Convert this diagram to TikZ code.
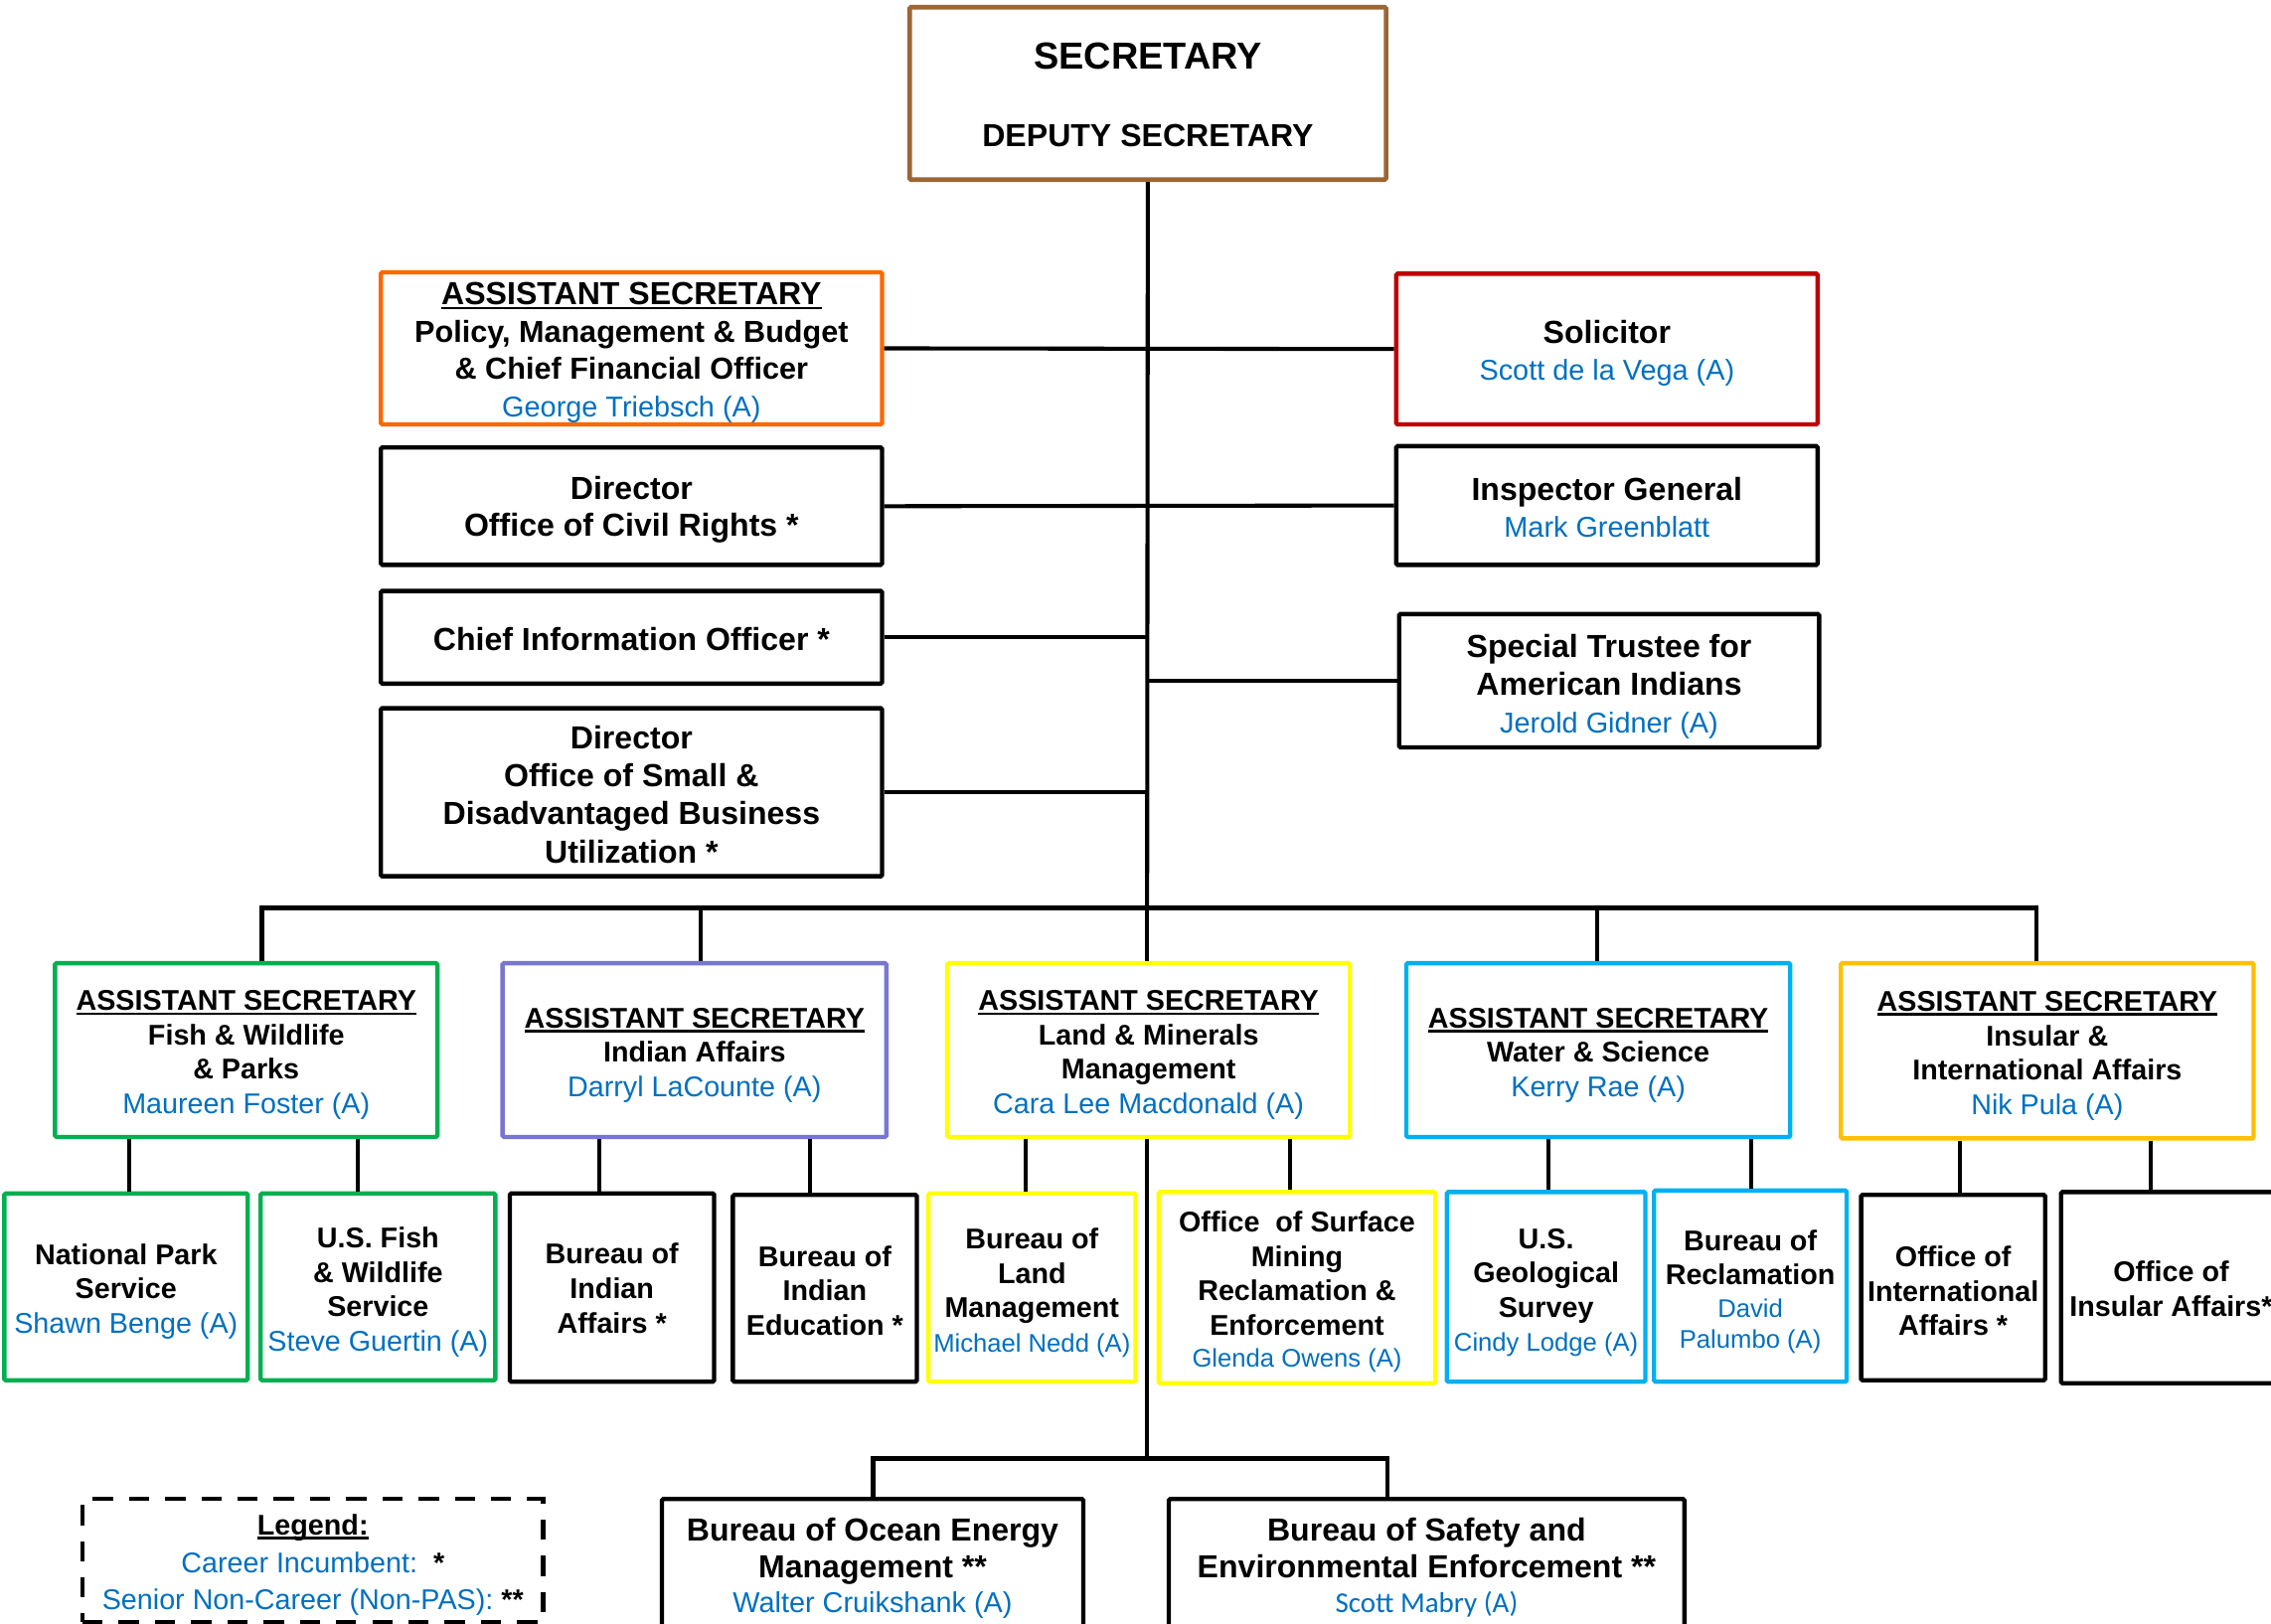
\documentclass[tikz,border=0pt]{standalone}
\usepackage{fontspec}
\setmainfont{Liberation Sans}
\newfontfamily\calib{Carlito}
\definecolor{brownC}{RGB}{156,102,52}
\definecolor{orangeC}{RGB}{255,102,0}
\definecolor{redC}{RGB}{192,0,0}
\definecolor{greenC}{RGB}{0,176,80}
\definecolor{purpleC}{RGB}{121,118,210}
\definecolor{yellowC}{RGB}{255,255,0}
\definecolor{skyC}{RGB}{0,176,240}
\definecolor{goldC}{RGB}{255,192,0}
\definecolor{nameblue}{RGB}{0,112,192}
\newcommand\asul[1]{\setbox0\hbox{#1}\rlap{\rule[-3pt]{\wd0}{1.8pt}}\box0}
\newcommand\nm[2][19.8]{{\mdseries\color{nameblue}\fontsize{#1}{#1}\selectfont #2}}
\newcommand\ob[8]{\node[bx,#2,minimum width={(#5)-(#3)},minimum height={(#6)-(#4)}] (#1) at ({((#3)+(#5))/2},{((#4)+(#6))/2}) {};
\node[bx,#2,draw=none,fill=none,minimum width=0pt,minimum height=0pt] (#1-t) at ([yshift=-#8pt]#1.center) {#7};}
\tikzset{
  bx/.style={draw=black, line width=3pt, rectangle, inner sep=0pt, align=center, fill=white, rounded corners=1pt},
  topf/.style={font=\fontsize{22}{25.7}\selectfont\bfseries},
  asf/.style={font=\fontsize{19.7}{23.7}\selectfont\bfseries},
  chf/.style={font=\fontsize{19.7}{23.7}\selectfont\bfseries},
  conn/.style={line width=2.8pt},
  bus/.style={line width=3.2pt},
}
\begin{document}
\begin{tikzpicture}[x=1pt,y=-1pt]
\clip (0,0) rectangle (1568,1121);
\fill[white] (0,0) rectangle (1568,1121);
% top
\ob{sec}{draw=brownC,topf,line width=3.2pt}{628}{5}{957}{124}{{\fontsize{26}{30}\selectfont SECRETARY}\\[28pt]DEPUTY SECRETARY}{1}
\ob{pmb}{draw=orangeC,topf}{263}{188}{609}{293}{\asul{ASSISTANT SECRETARY}\\{\fontsize{21}{21}\selectfont Policy, Management \& Budget}\\{\fontsize{21}{21}\selectfont\& Chief Financial Officer}\\\nm{George Triebsch (A)}}{3}
\ob{civ}{topf}{263}{309}{609}{390}{Director\\Office of Civil Rights *}{2.5}
\ob{cio}{topf}{263}{408}{609}{472}{Chief Information Officer *}{1}
\ob{sdb}{topf,font=\fontsize{22}{26.3}\selectfont\bfseries}{263}{489}{609}{605}{Director\\Office of Small \&\\Disadvantaged Business\\Utilization *}{1.5}
\ob{sol}{draw=redC,topf}{964}{189}{1255}{293}{Solicitor\\\nm{Scott de la Vega (A)}}{3}
\ob{ig}{topf}{964}{308}{1255}{390}{Inspector General\\\nm{Mark Greenblatt}}{1.5}
\ob{st}{topf,font=\fontsize{22}{26}\selectfont\bfseries}{966}{424}{1256}{516}{Special Trustee for\\American Indians\\\nm{Jerold Gidner (A)}}{4}
% assistant secretaries
\ob{fw}{draw=greenC,asf}{38}{665}{302}{785}{\asul{ASSISTANT SECRETARY}\\Fish \& Wildlife\\\& Parks\\\nm[19.7]{Maureen Foster (A)}}{3.5}
\ob{ia}{draw=purpleC,asf}{347}{665}{612}{785}{\asul{ASSISTANT SECRETARY}\\Indian Affairs\\\nm[19.7]{Darryl LaCounte (A)}}{3.5}
\ob{lm}{draw=yellowC,asf}{654}{665}{932}{785}{\asul{ASSISTANT SECRETARY}\\Land \& Minerals\\Management\\\nm[19.7]{Cara Lee Macdonald (A)}}{3.5}
\ob{ws}{draw=skyC,asf}{971}{665}{1236}{785}{\asul{ASSISTANT SECRETARY}\\Water \& Science\\\nm[19.7]{Kerry Rae (A)}}{3.5}
\ob{iia}{draw=goldC,asf}{1271}{665}{1556}{786}{\asul{ASSISTANT SECRETARY}\\Insular \&\\International Affairs\\\nm[19.7]{Nik Pula (A)}}{3.5}
% bureaus
\ob{nps}{draw=greenC,chf}{3}{824}{171}{953}{National Park\\Service\\\nm[19.7]{Shawn Benge (A)}}{3}
\ob{fws}{draw=greenC,chf}{180}{824}{342}{953}{U.S. Fish\\\& Wildlife\\Service\\\nm[19.7]{Steve Guertin (A)}}{3.5}
\ob{bia}{chf}{352}{824}{493}{954}{Bureau of\\Indian\\Affairs *}{0.5}
\ob{bie}{chf}{506}{825}{633}{954}{Bureau of\\Indian\\Education *}{1.5}
\ob{blm}{draw=yellowC,chf}{641}{824}{784}{954}{Bureau of\\Land\\Management\\\nm[17.6]{Michael Nedd (A)}}{3.5}
\ob{osm}{draw=yellowC,chf}{800}{823}{991}{955}{Office\ \ of Surface\\Mining\\Reclamation \&\\Enforcement\\[-1.5pt]\nm[17.6]{Glenda Owens (A)}}{3}
\ob{usgs}{draw=skyC,chf}{999}{823}{1136}{954}{U.S.\\Geological\\Survey\\\nm[17.6]{Cindy Lodge (A)}}{4}
\ob{rec}{draw=skyC,chf}{1142}{822}{1275}{954}{Bureau of\\Reclamation\\[-1.5pt]\nm[17.6]{David}\\[-2pt]\nm[17.6]{Palumbo (A)}}{4}
\ob{oia}{chf}{1285}{825}{1412}{953}{Office of\\International\\Affairs *}{2.5}
\ob{oins}{chf}{1423}{823}{1575}{955}{Office of\\Insular Affairs*}{1}
% bottom
\ob{boem}{topf,font=\fontsize{22}{25.5}\selectfont\bfseries}{457}{1035}{748}{1127}{Bureau of Ocean Energy\\Management **\\[-1.5pt]\nm{Walter Cruikshank (A)}}{2}
\ob{bsee}{topf,font=\fontsize{22}{25.5}\selectfont\bfseries}{807}{1035}{1163}{1127}{Bureau of Safety and\\Environmental Enforcement **\\[-1.5pt]{\calib\mdseries\color{nameblue}\fontsize{19.9}{20}\selectfont Scott Mabry (A)}}{1.5}
% legend
\ob{leg}{dash pattern=on 14pt off 11pt,rounded corners=0pt,font=\fontsize{19.7}{26}\selectfont}{57}{1035}{375}{1120}{\textbf{\asul{Legend:}}\\\nm[19.7]{Career Incumbent:}\ \ \textbf{*}\\\nm[19.7]{Senior Non-Career (Non-PAS):} \textbf{**}}{3}
% connectors
\coordinate (b1) at (181,627);
\coordinate (b2) at (484,627);
\coordinate (b3) at (792,627);
\coordinate (b4) at (1103,627);
\coordinate (b5) at (1406,627);
\draw[conn] (sec.south) -- (b3);
\draw[conn] (pmb.east) -- (sol.west);
\draw[conn] (civ.east) -- (ig.west);
\draw[conn] (cio.east) -- (cio.east -| b3);
\draw[conn] (sdb.east) -- (sdb.east -| b3);
\draw[conn] (st.west) -- (st.west -| b3);
\draw[bus] (b1 |- fw.north) -- (b1) -- (b5) -- (b5 |- iia.north);
\draw[conn] (b2) -- (b2 |- ia.north);
\draw[conn] (b3) -- (b3 |- lm.north);
\draw[conn] (b4) -- (b4 |- ws.north);
\coordinate (d1) at (89,0);
\coordinate (d2) at (247,0);
\coordinate (d3) at (414,0);
\coordinate (d4) at (559,0);
\coordinate (d5) at (708,0);
\coordinate (d6) at (891,0);
\coordinate (d7) at (1069,0);
\coordinate (d8) at (1209,0);
\coordinate (d9) at (1353,0);
\coordinate (d10) at (1485,0);
\draw[conn] (fw.south -| d1) -- (nps.north -| d1);
\draw[conn] (fw.south -| d2) -- (fws.north -| d2);
\draw[conn] (ia.south -| d3) -- (bia.north -| d3);
\draw[conn] (ia.south -| d4) -- (bie.north -| d4);
\draw[conn] (lm.south -| d5) -- (blm.north -| d5);
\draw[conn] (lm.south -| d6) -- (osm.north -| d6);
\draw[conn] (ws.south -| d7) -- (usgs.north -| d7);
\draw[conn] (ws.south -| d8) -- (rec.north -| d8);
\draw[conn] (iia.south -| d9) -- (oia.north -| d9);
\draw[conn] (iia.south -| d10) -- (oins.north -| d10);
\coordinate (bj) at (792,1007);
\coordinate (e1) at (603,1007);
\coordinate (e2) at (958,1007);
\draw[conn] (lm.south -| bj) -- (bj);
\draw[bus] (e1 |- boem.north) -- (e1) -- (e2) -- (e2 |- bsee.north);
\end{tikzpicture}
\end{document}
